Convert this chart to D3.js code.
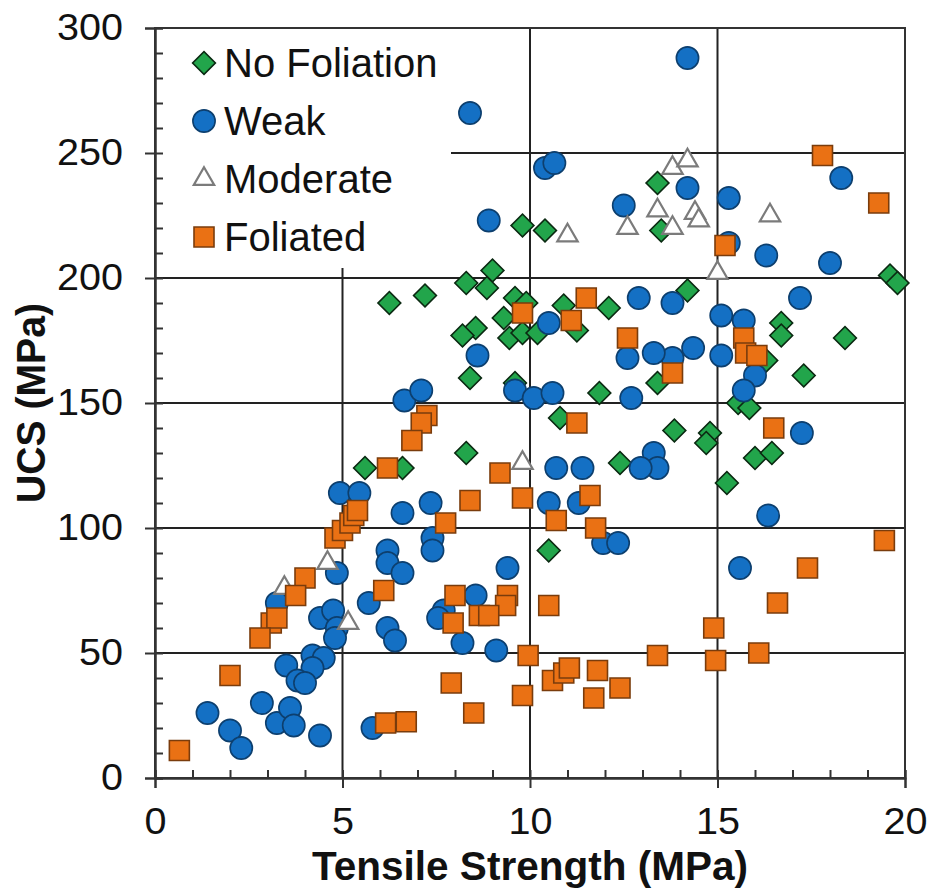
<!DOCTYPE html>
<html>
<head>
<meta charset="utf-8">
<script src="https://cdn.jsdelivr.net/npm/d3@7.9.0/dist/d3.min.js"></script>
<style>
  body { margin: 0; background: #fff; }
  svg text { font-family: "Liberation Sans", Arial, sans-serif; fill: #111; }
</style>
</head>
<body>
<svg id="chart" width="930" height="894"></svg>
<script>
// series: [tensile strength, UCS]
const noFoliation = [
  [9.8,221],[10.4,219],[9.0,203],[13.4,238],[13.5,219],[19.6,201],[19.8,198],[14.2,195],
  [16.3,167],[13.4,158],[16.7,182],[16.7,177],[18.4,176],[17.3,161],[15.55,150],[15.85,148],
  [13.85,139],[14.8,138],[14.7,134],[16.0,128],[16.45,130],[15.25,118],[8.3,198],[8.85,196],
  [7.2,193],[9.6,192],[9.9,190],[10.9,189],[12.1,188],[11.25,179],[9.3,184],[8.55,180],
  [8.2,177],[9.45,176],[9.8,178],[10.2,178],[8.4,160],[9.6,158],[11.85,154],[10.8,144],
  [8.3,130],[6.6,124],[12.4,126],[6.25,190],[5.6,124],[10.5,91]
];
const weak = [
  [8.4,266],[10.4,244],[10.65,246],[12.5,229],[8.9,223],[14.2,288],[14.2,236],[15.3,232],
  [18.3,240],[15.3,214],[16.3,209],[18.0,206],[13.8,190],[15.1,185],[15.7,183],[14.35,172],
  [15.1,169],[13.8,168],[13.3,170],[17.2,192],[16.0,161],[15.7,155],[17.25,138],[13.3,130],
  [13.4,124],[16.35,105],[10.5,182],[8.6,169],[12.6,168],[12.9,192],[6.65,151],[7.1,155],
  [9.6,155],[10.1,152],[10.6,154],[12.7,152],[10.7,124],[11.4,124],[12.95,124],[7.35,110],
  [10.5,110],[11.3,110],[6.6,106],[4.93,114],[5.45,114],[4.85,82],[3.25,70],[4.4,64],
  [4.75,67],[4.85,60],[4.8,56],[3.5,45],[4.2,49],[4.5,48],[4.2,44],[3.8,39],[4.0,38],
  [1.4,26],[2.0,19],[2.3,12],[2.85,30],[3.25,22],[3.6,28],[3.7,21],[4.4,17],[6.2,91],
  [6.2,86],[6.6,82],[5.7,70],[6.2,60],[6.4,55],[5.8,20],[7.4,96],[7.4,91],[11.95,94],
  [12.35,94],[9.4,84],[8.55,73],[7.7,67],[7.55,64],[8.2,54],[9.1,51],[15.6,84]
];
const moderate = [
  [13.4,227],[12.6,220],[11.0,217],[13.8,244],[14.2,247],[14.4,226],[14.5,223],[13.8,220],
  [16.4,225],[15.0,202],[9.8,126],[4.6,86],[3.45,76],[5.15,62]
];
const foliated = [
  [17.8,249],[19.3,230],[15.2,213],[15.7,176],[15.75,170],[16.05,169],[16.5,140],[9.8,186],
  [11.5,192],[11.1,183],[12.6,176],[13.8,162],[11.25,142],[7.25,145],[7.1,142],[6.85,135],
  [9.2,122],[8.4,111],[9.8,112],[11.6,113],[7.75,102],[10.7,103],[11.75,100],[6.2,124],
  [4.8,96],[5.0,99],[5.2,102],[5.3,105],[5.4,107],[4.0,80],[3.75,73],[3.1,62],[3.25,64],
  [2.8,56],[2.0,41],[0.65,11],[6.1,75],[6.15,22],[6.7,22.5],[8.0,73],[9.4,73],[9.35,69],
  [8.65,65],[8.9,65],[7.95,62],[10.5,69],[9.95,49],[10.6,39],[10.9,42],[11.05,44],
  [11.8,43],[11.7,32],[12.4,36],[9.8,33],[7.9,38],[8.5,26],[13.4,49],[14.95,47],
  [16.1,50],[14.9,60],[16.6,70],[17.4,84],[19.45,95]
];
const xTicks = [0, 5, 10, 15, 20];
const yTicks = [0, 50, 100, 150, 200, 250, 300];

const series = [
  { name: "No Foliation", data: noFoliation, shape: d3.symbolSquare, size: 260, rotate: 45, fill: "#22a54b", stroke: "#0b2a12" },
  { name: "Weak", data: weak, shape: d3.symbolCircle, size: 390, rotate: 0, fill: "#1470c4", stroke: "#0d3f6e" },
  { name: "Moderate", data: moderate, shape: d3.symbolTriangle, size: 180, rotate: 0, fill: "#fff", stroke: "#7b7b7b" },
  { name: "Foliated", data: foliated, shape: d3.symbolSquare, size: 400, rotate: 0, fill: "#ea7114", stroke: "#7a3c0c" }
];

const svg = d3.select("#chart");
const m = { left: 155, right: 905, top: 28, bottom: 778 };

const x = d3.scaleLinear().domain([0, 20]).range([m.left, m.right]);
const y = d3.scaleLinear().domain([0, 300]).range([m.bottom, m.top]);

// grid
const grid = svg.append("g").attr("stroke", "#222").attr("stroke-width", 2);
grid.selectAll(".gx").data([5, 10, 15]).join("line")
  .attr("x1", d => x(d)).attr("x2", d => x(d)).attr("y1", m.top).attr("y2", m.bottom);
grid.selectAll(".gy").data([50, 100, 150, 200, 250]).join("line")
  .attr("x1", m.left).attr("x2", m.right).attr("y1", d => y(d)).attr("y2", d => y(d));

// legend background hides the grid underneath
svg.append("rect").attr("x", m.left + 1).attr("y", m.top + 1)
  .attr("width", 295).attr("height", 239).attr("fill", "#fff");

// frame
svg.append("rect").attr("x", m.left).attr("y", m.top)
  .attr("width", m.right - m.left).attr("height", m.bottom - m.top)
  .attr("fill", "none").attr("stroke", "#333").attr("stroke-width", 2);

// axes
const xAxis = svg.append("g").attr("transform", `translate(0,${m.bottom})`)
  .call(d3.axisBottom(x).tickValues(xTicks).tickSize(10).tickPadding(20).tickFormat(d3.format("d")));
const xMinor = svg.append("g").attr("transform", `translate(0,${m.bottom})`)
  .call(d3.axisBottom(x).tickValues(d3.range(0, 21)).tickSize(-8).tickFormat(""));
const yAxis = svg.append("g").attr("transform", `translate(${m.left},0)`)
  .call(d3.axisLeft(y).tickValues(yTicks).tickSize(10).tickPadding(22).tickFormat(d3.format("d")));
const yMinor = svg.append("g").attr("transform", `translate(${m.left},0)`)
  .call(d3.axisLeft(y).tickValues(d3.range(0, 301, 10)).tickSize(-8).tickFormat(""));

[xAxis, xMinor, yAxis, yMinor].forEach(g => {
  g.select(".domain").attr("stroke", "#333").attr("stroke-width", 2);
  g.selectAll(".tick line").attr("stroke", "#333").attr("stroke-width", 2);
  g.selectAll("text").attr("font-size", 37).attr("fill", "#111")
    .attr("font-family", "Liberation Sans, Arial, sans-serif");
});
// labels in the reference are a little wider than plain Arial
yAxis.selectAll(".tick text").attr("textLength", d => String(d).length * 22).attr("lengthAdjust", "spacingAndGlyphs");
xAxis.selectAll(".tick text").attr("textLength", d => String(d).length * 22).attr("lengthAdjust", "spacingAndGlyphs");

// axis titles
svg.append("text").attr("x", x(10)).attr("y", 880)
  .attr("text-anchor", "middle").attr("font-weight", "bold").attr("font-size", 40)
  .attr("textLength", 436).attr("lengthAdjust", "spacingAndGlyphs")
  .text("Tensile Strength (MPa)");
svg.append("text").attr("transform", `translate(45,${y(150)}) rotate(-90)`)
  .attr("text-anchor", "middle").attr("font-weight", "bold").attr("font-size", 40)
  .attr("textLength", 200).attr("lengthAdjust", "spacingAndGlyphs")
  .text("UCS (MPa)");

// points
series.forEach(s => {
  svg.append("g").selectAll("path").data(s.data).join("path")
    .attr("d", d3.symbol(s.shape, s.size))
    .attr("transform", d => `translate(${x(d[0])},${y(d[1])}) rotate(${s.rotate})`)
    .attr("fill", s.fill).attr("stroke", s.stroke).attr("stroke-width", s.name === "Moderate" ? 2.2 : 1.6);
});

// legend
const legend = svg.append("g");
series.forEach((s, i) => {
  const cy = 63 + i * 58;
  legend.append("path")
    .attr("d", d3.symbol(s.shape, s.size))
    .attr("transform", `translate(204,${cy}) rotate(${s.rotate})`)
    .attr("fill", s.fill).attr("stroke", s.stroke).attr("stroke-width", s.name === "Moderate" ? 2.2 : 1.6);
  legend.append("text").attr("x", 224).attr("y", cy + 14)
    .attr("font-size", 40).text(s.name);
});
</script>
</body>
</html>
